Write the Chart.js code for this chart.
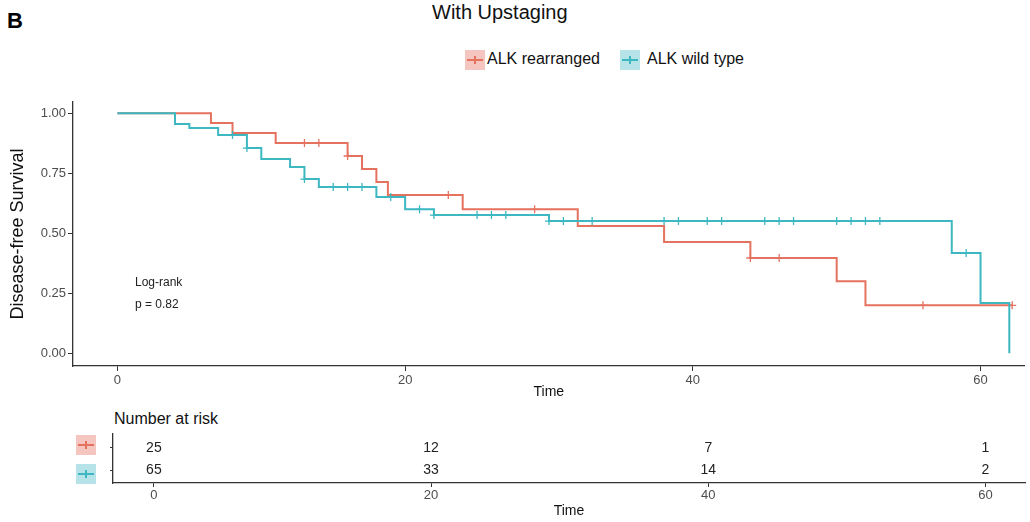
<!DOCTYPE html>
<html>
<head>
<meta charset="utf-8">
<script src="https://cdn.jsdelivr.net/npm/chart.js@4.4.1/dist/chart.umd.min.js"></script>
<style>
  body { margin: 0; background: #fff; font-family: "Liberation Sans", Arial, sans-serif; }
  #wrap { position: relative; width: 1030px; height: 522px; overflow: hidden; background: #fff; }
  .abs { position: absolute; white-space: nowrap; }
  .key { position: absolute; width: 20px; height: 20px; }
  .key .h { position: absolute; left: 2px; right: 2px; top: 9px; height: 2px; }
  .key .v { position: absolute; left: 9px; width: 1.5px; top: 6px; height: 8px; }
  canvas { position: absolute; left: 0; }
</style>
</head>
<body>
<div id="wrap">
  <div class="abs" style="left:7px;top:8px;font-size:22px;font-weight:bold;color:#000;">B</div>
  <div class="abs" style="left:432px;top:1px;font-size:20px;color:#111;">With Upstaging</div>

  <!-- leyenda -->
  <div class="key" style="left:465px;top:50px;background:#f5c6c0;"><div class="h" style="background:#e5715f"></div><div class="v" style="background:#e5715f"></div></div>
  <div class="abs" style="left:487px;top:50px;font-size:16px;color:#111;">ALK rearranged</div>
  <div class="key" style="left:620px;top:50px;background:#b5e3e8;"><div class="h" style="background:#3db7c1"></div><div class="v" style="background:#3db7c1"></div></div>
  <div class="abs" style="left:647px;top:50px;font-size:16px;color:#111;">ALK wild type</div>

  <canvas id="kmChart" width="1030" height="315" style="top:90px"></canvas>

  <div class="abs" style="left:135px;top:275px;font-size:12px;color:#222;">Log-rank</div>
  <div class="abs" style="left:135px;top:297px;font-size:12px;color:#222;">p = 0.82</div>

  <div class="abs" style="left:114px;top:410px;font-size:16px;color:#111;">Number at risk</div>
  <canvas id="riskChart" width="1030" height="117" style="top:405px"></canvas>
  <div class="key" style="left:76px;top:435px;background:#f5c6c0;"><div class="h" style="background:#e5715f"></div><div class="v" style="background:#e5715f"></div></div>
  <div class="key" style="left:76px;top:464px;background:#b5e3e8;"><div class="h" style="background:#3db7c1"></div><div class="v" style="background:#3db7c1"></div></div>
</div>

<script>
// valores (Kaplan-Meier)
const redTimes = [0, 6.5, 8, 11, 16, 17, 18, 18.8, 24, 32, 38, 44, 50, 52, 62.2];
const redSurv  = [1, 0.96, 0.918, 0.876, 0.822, 0.768, 0.714, 0.66, 0.60, 0.53, 0.464, 0.397, 0.30, 0.20, 0.20];
const redCensor = [13, 14, 16, 23, 29, 44, 46, 56, 62.2];

const tealTimes = [0, 4, 5, 7, 9, 10, 12, 13, 14, 18, 20, 22, 30, 58, 60, 62];
const tealSurv  = [1, 0.955, 0.939, 0.91, 0.855, 0.81, 0.776, 0.726, 0.693, 0.651, 0.60, 0.576, 0.551, 0.418, 0.21, 0];
const tealCensor = [8, 9, 13, 15, 16, 17, 19, 21, 22, 25, 26, 27, 30, 31, 33, 38, 39, 41, 42, 45, 46, 47, 50, 51, 52, 53, 59];

const timeTicks = [0, 20, 40, 60];
const survTicks = [0, 0.25, 0.5, 0.75, 1];

// tabla de número en riesgo
const riskTimes = [0, 20, 40, 60];
const redRisk = [25, 12, 7, 1];
const tealRisk = [65, 33, 14, 2];

const RED = '#e5715f';
const TEAL = '#3db7c1';
const AXIS = '#333';
const TICKTXT = '#4d4d4d';

// valor de la curva en un tiempo dado (para las marcas de censura)
function survAt(times, surv, t) {
  let s = surv[0];
  for (let i = 0; i < times.length; i++) if (times[i] <= t) s = surv[i];
  return s;
}

const toPts = (xs, ys) => xs.map((x, i) => ({ x: x, y: ys[i] }));
const censorPts = (cs, times, surv) => cs.map(t => ({ x: t, y: survAt(times, surv, t) }));

new Chart(document.getElementById('kmChart').getContext('2d'), {
  type: 'line',
  data: {
    datasets: [
      { label: 'ALK wild type', data: toPts(tealTimes, tealSurv), stepped: true,
        borderColor: TEAL, borderWidth: 2, pointRadius: 0, fill: false },
      { label: 'ALK wild type censor', data: censorPts(tealCensor, tealTimes, tealSurv), showLine: false,
        pointStyle: 'cross', pointRadius: 4, pointBorderColor: TEAL, pointBorderWidth: 1.3 },
      { label: 'ALK rearranged', data: toPts(redTimes, redSurv), stepped: true,
        borderColor: RED, borderWidth: 2, pointRadius: 0, fill: false },
      { label: 'ALK rearranged censor', data: censorPts(redCensor, redTimes, redSurv), showLine: false,
        pointStyle: 'cross', pointRadius: 4, pointBorderColor: RED, pointBorderWidth: 1.3 }
    ]
  },
  options: {
    responsive: false,
    animation: false,
    events: [],
    layout: { padding: { top: 12, right: 5, left: 0, bottom: 0 } },
    plugins: { legend: { display: false }, tooltip: { enabled: false } },
    scales: {
      x: {
        type: 'linear', min: -3.09, max: 63.07,
        afterBuildTicks: s => { s.ticks = timeTicks.map(v => ({ value: v })); },
        afterFit: s => { s.height = 39; },
        ticks: { color: TICKTXT, font: { size: 13, family: 'Liberation Sans' }, padding: 2, maxRotation: 0 },
        grid: { display: true, drawOnChartArea: false, drawTicks: true, tickLength: 5, color: AXIS },
        border: { display: true, color: AXIS, width: 1.3 },
        title: { display: true, text: 'Time', color: '#111', font: { size: 14, family: 'Liberation Sans' }, padding: { top: 0, bottom: 4 } }
      },
      y: {
        type: 'linear', min: -0.053, max: 1.047,
        afterBuildTicks: s => { s.ticks = survTicks.map(v => ({ value: v })); },
        afterFit: s => { s.width = 73; },
        ticks: { color: TICKTXT, font: { size: 13, family: 'Liberation Sans' }, padding: 2, callback: v => v.toFixed(2) },
        grid: { display: true, drawOnChartArea: false, drawTicks: true, tickLength: 5, color: AXIS },
        border: { display: true, color: AXIS, width: 1.3 },
        title: { display: true, text: 'Disease-free Survival', color: '#111', font: { size: 18, family: 'Liberation Sans' }, padding: { top: 7, bottom: 0 } }
      }
    }
  }
});

// dibuja los números en riesgo en la posición de cada punto
const riskLabels = {
  id: 'riskLabels',
  afterDatasetsDraw(chart) {
    const ctx = chart.ctx;
    ctx.save();
    ctx.font = '14px "Liberation Sans", Arial, sans-serif';
    ctx.fillStyle = '#222';
    ctx.textAlign = 'center';
    ctx.textBaseline = 'middle';
    chart.data.datasets.forEach((ds, i) => {
      chart.getDatasetMeta(i).data.forEach((pt, j) => {
        ctx.fillText(String(ds.counts[j]), pt.x, pt.y);
      });
    });
    ctx.restore();
  }
};

new Chart(document.getElementById('riskChart').getContext('2d'), {
  type: 'scatter',
  data: {
    datasets: [
      { label: 'ALK rearranged', counts: redRisk, data: riskTimes.map(t => ({ x: t, y: 2 })), pointRadius: 0 },
      { label: 'ALK wild type', counts: tealRisk, data: riskTimes.map(t => ({ x: t, y: 1 })), pointRadius: 0 }
    ]
  },
  options: {
    responsive: false,
    animation: false,
    events: [],
    layout: { padding: { top: 29, right: 5, left: 0, bottom: 0 } },
    plugins: { legend: { display: false }, tooltip: { enabled: false } },
    scales: {
      x: {
        type: 'linear', min: -2.95, max: 62.85,
        afterBuildTicks: s => { s.ticks = timeTicks.map(v => ({ value: v })); },
        afterFit: s => { s.height = 39; },
        ticks: { color: TICKTXT, font: { size: 13, family: 'Liberation Sans' }, padding: 1, maxRotation: 0 },
        grid: { display: true, drawOnChartArea: false, drawTicks: true, tickLength: 4, color: AXIS },
        border: { display: true, color: AXIS, width: 1.3 },
        title: { display: true, text: 'Time', color: '#111', font: { size: 14, family: 'Liberation Sans' }, padding: { top: 0, bottom: 2 } }
      },
      y: {
        type: 'linear', min: 0.43, max: 2.62,
        afterBuildTicks: s => { s.ticks = [1, 2].map(v => ({ value: v })); },
        afterFit: s => { s.width = 113; },
        ticks: { display: false },
        grid: { display: true, drawOnChartArea: false, drawTicks: true, tickLength: 3, color: AXIS },
        border: { display: true, color: AXIS, width: 1.3 }
      }
    }
  },
  plugins: [riskLabels]
});
</script>
</body>
</html>
